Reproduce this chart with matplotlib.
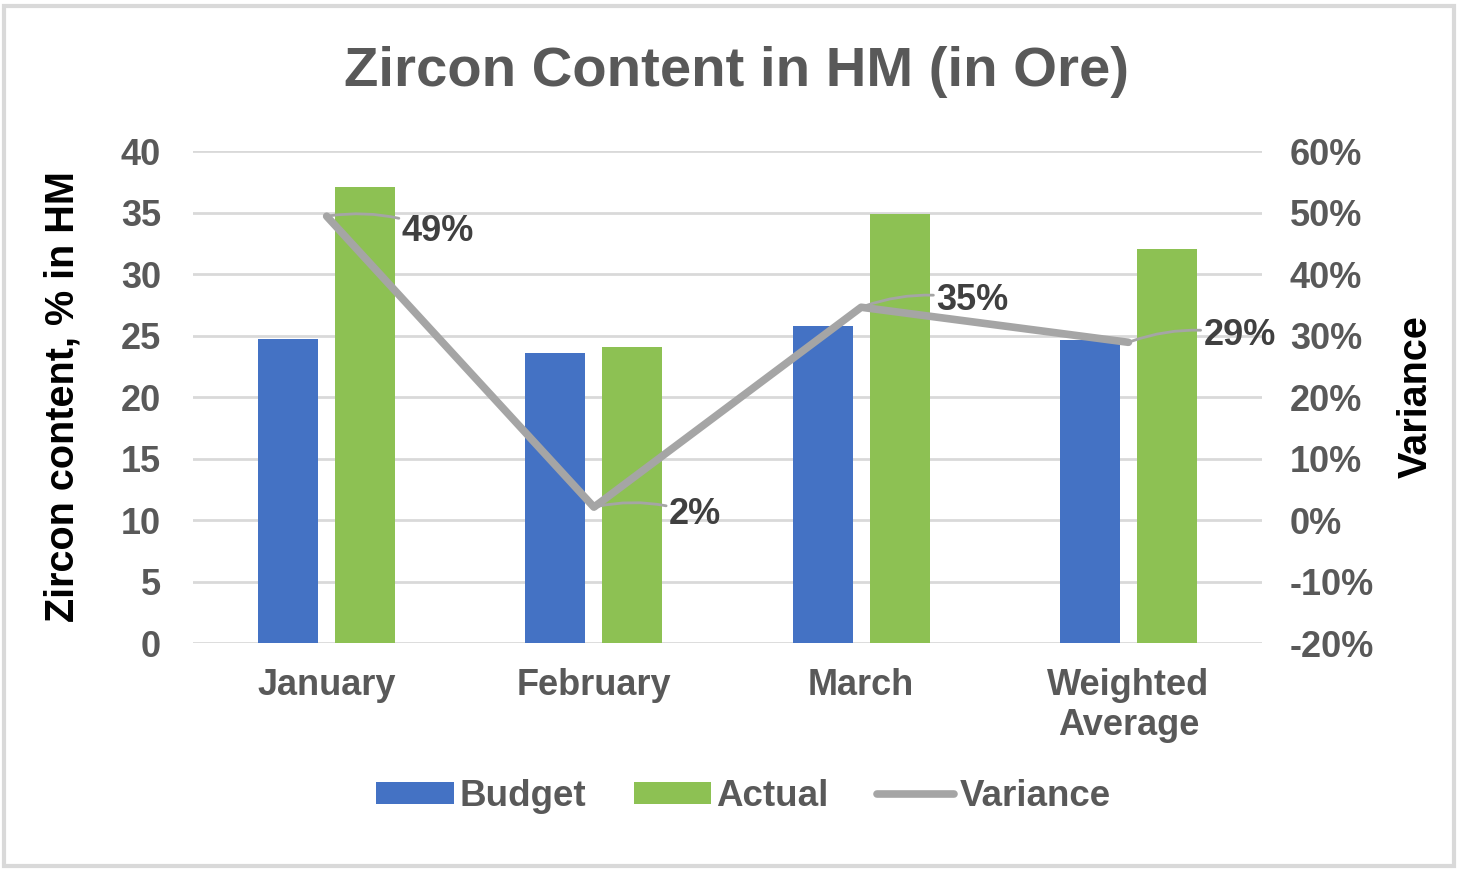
import numpy as np
import matplotlib
matplotlib.use("Agg")
import matplotlib.pyplot as plt
from matplotlib.patches import Rectangle
from matplotlib.ticker import FuncFormatter

plt.rcParams['font.family'] = ['Liberation Sans', 'DejaVu Sans']

# data
categories = ["January", "February", "March", "Weighted\nAverage"]
budget = [24.7, 23.6, 25.8, 24.6]
actual = [37.1, 24.1, 34.9, 32.0]
variance = [49.4, 2.1, 34.6, 28.9]   # percent
label_offsets = [(54, -11), (54, -5), (54, 5), (54, 5)]  # points, for data labels

blue = "#4472C4"
green = "#8DC153"
grey = "#A5A5A5"
txt = "#595959"

fig = plt.figure(figsize=(14.58, 8.69), dpi=100)
ax = fig.add_axes([0.1324, 0.26, 0.7332, 0.5662])
ax2 = ax.twinx()

x = np.arange(len(categories))
w = 0.225
ax.bar(x - 0.144, budget, w, color=blue, label="Budget", zorder=2)
ax.bar(x + 0.144, actual, w, color=green, label="Actual", zorder=2)

ax.set_ylim(0, 40)
ax.set_yticks(range(0, 41, 5))
ax.set_xlim(-0.5, 3.5)
ax.set_xticks(x)
ax.set_xticklabels(categories)
ax.grid(axis='y', color="#D9D9D9", lw=2, zorder=0)
ax.set_axisbelow(True)
for s in ax.spines.values():
    s.set_visible(False)
for s in ax2.spines.values():
    s.set_visible(False)

ax.tick_params(axis='y', length=0, pad=23, labelsize=26, labelcolor=txt)
ax.tick_params(axis='x', length=0, pad=18, labelsize=26, labelcolor=txt)
for t in ax.get_xticklabels() + ax.get_yticklabels():
    t.set_fontweight('bold')

ax2.plot(x, variance, color=grey, lw=5.5, label="Variance", solid_capstyle='round',
         solid_joinstyle='round')
ax2.set_ylim(-20, 60)
ax2.set_yticks(range(-20, 61, 10))
ax2.yaxis.set_major_formatter(FuncFormatter(lambda v, p: f"{v:.0f}%"))
ax2.tick_params(axis='y', length=0, pad=20, labelsize=26, labelcolor=txt)
for t in ax2.get_yticklabels():
    t.set_fontweight('bold')

for xi, v, off in zip(x, variance, label_offsets):
    ax2.annotate(f"{v:.0f}%", xy=(xi, v), xytext=off, textcoords='offset points',
                 ha='left', va='center', fontsize=26, fontweight='bold', color="#404040",
                 arrowprops=dict(arrowstyle='-', color=grey, lw=2,
                                 connectionstyle='arc3,rad=0.15',
                                 shrinkA=0, shrinkB=2))

ax.set_ylabel("Zircon content, % in HM", fontsize=28.5, fontweight='bold', color='black',
              labelpad=28)
ax2.set_ylabel("Variance", fontsize=28.5, fontweight='bold', color='black', labelpad=16)

fig.text(0.505, 0.917, "Zircon Content in HM (in Ore)", ha='center', va='center',
         fontsize=40.5, fontweight='bold', color=txt)

h1, l1 = ax.get_legend_handles_labels()
h2, l2 = ax2.get_legend_handles_labels()
fig.legend(h1 + h2, l1 + l2, loc='center', bbox_to_anchor=(0.51, 0.083), ncol=3,
           frameon=False, handlelength=2.1, handleheight=0.55,
           handletextpad=0.15, columnspacing=1.3, prop={'weight': 'bold', 'size': 26.5},
           labelcolor=txt)

fig.patches.append(Rectangle((0.003, 0.003), 0.994, 0.99, transform=fig.transFigure,
                             fill=False, edgecolor="#D9D9D9", lw=3))

fig.savefig("out.png", dpi=100, facecolor='white')
